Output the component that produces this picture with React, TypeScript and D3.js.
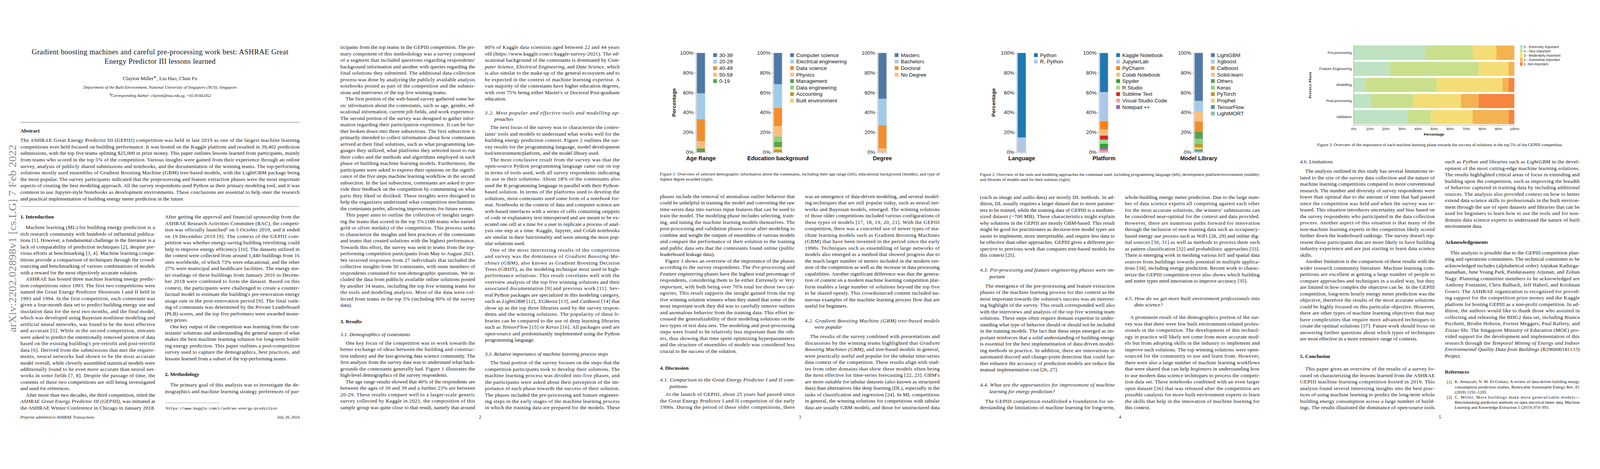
import React, { useEffect, useRef } from 'react'
import * as d3 from 'd3'

// ---------- chart data ----------
const ageKeys = ['30-39', '20-29', '40-49', '50-59', '0-19']
const ageValues = [40.7, 25.9, 22.2, 7.4, 3.7]

const eduKeys = ['Computer science', 'Electrical engineering', 'Data science', 'Physics', 'Management', 'Data engineering', 'Accounting', 'Built environment']
const eduValues = [31.6, 23.7, 18.4, 10.5, 5.3, 5.3, 2.6, 2.6]

const degreeKeys = ['Masters', 'Bachelors', 'Doctoral', 'No Degree']
const degreeValues = [46.2, 26.9, 23.1, 3.8]

const languageKeys = ['Python', 'R, Python']
const languageValues = [85.2, 14.8]

const platformKeys = ['Kaggle Notebook', 'JupyterLab', 'PyCharm', 'Colab Notebook', 'Spyder', 'R Studio', 'Sublime Text', 'Visual Studio Code', 'Notepad ++']
const platformValues = [39.6, 29.2, 8.3, 6.3, 4.2, 4.2, 4.2, 2.1, 2.1]

const libraryKeys = ['LightGBM', 'Xgboost', 'Catboost', 'Scikit-learn', 'Others', 'Keras', 'PyTorch', 'Prophet', 'TensorFlow', 'LightMORT']
const libraryValues = [48.3, 10.8, 10.0, 10.1, 7.2, 5.3, 3.3, 2.5, 1.5, 1.0]

const phases = ['Pre-processing', 'Feature Engineering', 'Modelling', 'Post-processing', 'Validation']
const ratingLabels = ['5 - Extremely important', '4 - Very important', '3 - Moderately important', '2 - Somewhat important', '1- Not important']
const extremely = [44.4, 22.2, 7.4, 11.1, 33.3]
const very = [29.6, 55.6, 44.4, 25.9, 14.8]
const moderately = [14.8, 18.5, 40.7, 29.6, 25.9]
const somewhat = [11.1, 3.7, 3.7, 11.1, 22.2]
const notImportant = [0, 0, 3.7, 22.2, 3.7]

const tableau20 = ['#4e79a7', '#a0cbe8', '#f28e2b', '#ffbe7d', '#59a14f', '#8cd17d', '#b6992d', '#f1ce63', '#499894', '#86bcb6']
const category20 = ['#1f77b4', '#aec7e8', '#ff7f0e', '#ffbb78', '#2ca02c', '#98df8a', '#d62728', '#ff9896', '#9467bd']
const ratingColors = ['#bfe3c2', '#c9df8c', '#f4dd74', '#f4b350', '#f5853f']

const SERIF = '"Liberation Serif", "Times New Roman", serif'
const SANS = '"Liberation Sans", Arial, sans-serif'
const MONO = '"Liberation Mono", "DejaVu Sans Mono", monospace'

const W = 4240
const H = 1200
const plotTop = 140
const plotBottom = 403
const legendTop = 146

const columns = [
  { title: 'Age Range', axisX: 1844, keys: ageKeys, values: ageValues, colors: tableau20, yTitleX: 1786 },
  { title: 'Education background', axisX: 2048, keys: eduKeys, values: eduValues, colors: tableau20 },
  { title: 'Degree', axisX: 2325, keys: degreeKeys, values: degreeValues, colors: tableau20 },
  { title: 'Language', axisX: 2694, keys: languageKeys, values: languageValues, colors: category20, yTitleX: 2633 },
  { title: 'Platform', axisX: 2912, keys: platformKeys, values: platformValues, colors: category20 },
  { title: 'Model Library', axisX: 3163, keys: libraryKeys, values: libraryValues, colors: tableau20 },
]

// ---------- page text ----------
const abstractLines = [
  'The ASHRAE Great Energy Predictor III (GEPIII) competition was held in late 2019 as one of the largest machine learning',
  'competitions ever held focused on building performance. It was hosted on the Kaggle platform and resulted in 39,402 prediction',
  'submissions, with the top five teams splitting $25,000 in prize money. This paper outlines lessons learned from participants, mainly',
  'from teams who scored in the top 5% of the competition. Various insights were gained from their experience through an online',
  'survey, analysis of publicly shared submissions and notebooks, and the documentation of the winning teams. The top-performing',
  'solutions mostly used ensembles of Gradient Boosting Machine (GBM) tree-based models, with the LightGBM package being',
  'the most popular. The survey participants indicated that the preprocessing and feature extraction phases were the most important',
  'aspects of creating the best modeling approach. All the survey respondents used Python as their primary modeling tool, and it was',
  'common to use Jupyter-style Notebooks as development environments. These conclusions are essential to help steer the research',
  'and practical implementation of building energy meter prediction in the future.|',
]

const p1Left = [
  '¶Machine learning (ML) for building energy prediction is a',
  'rich research community with hundreds of influential publica-',
  'tions [1]. However, a fundamental challenge in the literature is a',
  'lack of comparability of prediction techniques [2], despite pre-',
  'vious efforts at benchmarking [3, 4]. Machine learning compe-',
  'titions provide a comparison of techniques through the crowd-',
  'sourcing and benchmarking of various combinations of models',
  'with a reward for the most objectively accurate solution.|',
  '¶ASHRAE has hosted three machine learning energy predic-',
  'tion competitions since 1993. The first two competitions were',
  'named the Great Energy Predictor Shootouts I and II held in',
  '1993 and 1994. In the first competition, each contestant was',
  'given a four-month data set to predict building energy use and',
  'insolation data for the next two months, and the final model,',
  'which was developed using Bayesian nonlinear modeling and',
  'artificial neural networks, was found to be the most effective',
  'and accurate [5]. While in the second competition, entrants',
  'were asked to predict the intentionally removed portion of data',
  "based on the existing building's pre-retrofit and post-retrofit",
  'data [6]. Derived from the submissions that met the require-',
  'ments, neural networks had shown to be the most accurate',
  'model overall, while cleverly assembled statistical models were',
  'additionally found to be even more accurate than neural net-',
  'works in some fields [7, 8]. Despite the passage of time, the',
  'contents of these two competitions are still being investigated',
  'and used for references.|',
  '¶After more than two decades, the third competition, titled the',
  '*ASHRAE Great Energy Predictor III (GEPIII)*, was initiated at',
  'the ASHRAE Winter Conference in Chicago in January 2018.',
]

const p1Right = [
  'After getting the approval and financial sponsorship from the',
  'ASHRAE Research Activities Committee (RAC), the competi-',
  'tion was officially launched¹ on 5 October 2019, and it ended',
  'on 19 December 2019 [9]. The context of the GEPIII com-',
  'petition was whether energy-saving building retrofitting could',
  'help to improve energy efficiency [10]. The datasets utilized in',
  'the contest were collected from around 1,440 buildings from 16',
  'sites worldwide, of which 73% were educational, and the other',
  '27% were municipal and healthcare facilities. The energy me-',
  'ter readings of these buildings from January 2016 to Decem-',
  'ber 2018 were combined to form the dataset. Based on this',
  'context, the participants were challenged to create a counter-',
  "factual model to estimate the building's pre-renovation energy",
  'usage rate in the post-renovation period [9]. The final rank-',
  'ing of contestants was determined by the Private Leaderboard',
  '(PLB) scores, and the top five performers were awarded mone-',
  'tary prizes.|',
  '¶One key output of the competition was learning from the con-',
  "testants' solutions and understanding the general nature of what",
  'makes the best machine learning solution for long-term build-',
  'ing energy prediction. This paper outlines a post-competition',
  'survey used to capture the demographics, best practices, and',
  'lessons learned from a subset of the top-performing teams.|',
]

const p1Method = [
  '¶The primary goal of this analysis was to investigate the de-',
  'mographics and machine learning strategy preferences of par-',
]

const p2Left = [
  'ticipants from the top teams in the GEPIII competition. The pri-',
  'mary component of this methodology was a survey composed',
  "of a segment that included questions regarding respondents'",
  'background information and another with queries regarding the',
  'final solutions they submitted. The additional data collection',
  'process was done by analyzing the publicly available analysis',
  'notebooks posted as part of the competition and the submis-',
  'sions and interviews of the top five winning teams.|',
  '¶The first portion of the web-based survey gathered some ba-',
  'sic information about the contestants, such as age, gender, ed-',
  'ucational information, current job fields, and work experience.',
  'The second portion of the survey was designed to gather infor-',
  'mation regarding their participation experience. It can be fur-',
  'ther broken down into three subsections. The first subsection is',
  'primarily intended to collect information about how contestants',
  'arrived at their final solutions, such as what programming lan-',
  'guages they utilized, what platforms they selected most to run',
  'their codes and the methods and algorithms employed in each',
  'phase of building machine learning models. Furthermore, the',
  'participants were asked to express their opinions on the signifi-',
  'cance of the five steps machine learning workflow in the second',
  'subsection. In the last subsection, contestants are asked to pro-',
  'vide their feedback on the competition by commenting on what',
  'parts they liked or disliked. These insights were designed to',
  'help the organizers understand what competition mechanisms',
  'the contestants prefer, allowing improvements for future events.|',
  '¶This paper aims to outline the collection of insights target-',
  'ing the teams that scored in the top 5% (180 teams who earned',
  'gold or silver medals) of the competition. This process seeks',
  'to characterize the insights and best practices of the contestants',
  'and teams that created solutions with the highest performance.',
  'Towards this effort, the survey was sent to teams from the top-',
  'performing competition participants from May to August 2021.',
  'We received responses from 27 individuals that included the',
  'collective insights from 50 contestants, with team members of',
  'respondents contained for non-demographic questions. We in-',
  'cluded the data from publicly available online solutions posted',
  'by another 34 teams, including the top five winning teams for',
  'the tools and modeling analysis. Most of the data were col-',
  'lected from teams in the top 5% (including 90% of the survey',
  'data).|',
]

const p2Demo = [
  '¶One key focus of the competition was to work towards the',
  'better exchange of ideas between the building and construc-',
  'tion industry and the fast-growing data science community. The',
  'first analysis from the survey data was to understand what back-',
  'grounds the contestants generally had. Figure 1 illustrates the',
  'high-level demographics of the survey respondents.|',
  '¶The age range results showed that 40% of the respondents are',
  'between the ages of 30 and 39 and a further 23% are between',
  '20-29. These results compare well to a larger-scale generic',
  'survey collected by Kaggle in 2021, the composition of this',
  'sample group was quite close to that result, namely that around',
]

const p2Right = [
  '80% of Kaggle data scientists aged between 22 and 44 years',
  'old (https://www.kaggle.com/c/kaggle-survey-2021). The ed-',
  'ucational background of the contestants is dominated by *Com-*',
  '*puter Science*, *Electrical Engineering*, and *Data Science*, which',
  'is also similar to the make-up of the general ecosystem and to',
  'be expected in the context of machine learning expertise. A',
  'vast majority of the contestants have higher education degrees,',
  "with over 75% being either Master's or Doctoral Post-graduate",
  'education.|',
]

const p2Tools = [
  '¶The next focus of the survey was to characterize the contes-',
  "tants' tools and models to understand what works well for the",
  'building energy prediction context. Figure 2 outlines the sur-',
  'vey results for the programming language, model development',
  'tool/environment/platform, and the model library used.|',
  '¶The most conclusive result from the survey was that the',
  'open-source Python programming language came out on top',
  'in terms of tools used, with all survey respondents indicating',
  'its use in their solutions. About 18% of the contestants also',
  'used the R programming language in parallel with their Python-',
  'based solution. In terms of the platforms used to develop the',
  'solutions, most contestants used some form of a *notebook* for-',
  'mat. Notebooks in the context of data and computer science are',
  'web-based interfaces with a series of cells containing snippets',
  'of code or explanatory text interspersed and are meant to be ex-',
  'ecuted one cell at a time for a user to replicate a process of anal-',
  'ysis one step at a time. Kaggle, Jupyter, and Colab notebooks',
  'are similar in their functionality and were among the most pop-',
  'ular solutions used.|',
  '¶One of the most interesting results of the competition',
  'and survey was the dominance of *Gradient Boosting Ma-*',
  '*chines* (GBM), also known as Gradient Boosting Decision',
  'Trees (GBDT), as the modeling technique most used in high-',
  'performance solutions. This result correlates well with the',
  'overview analysis of the top five winning solutions and their',
  'associated documentation [9] and previous work [11]. Sev-',
  'eral Python packages are specialized in this modeling category,',
  'such as *LightGBM* [12], *XGBoost* [13], and *CatBoost* [14] that',
  'show up as the top three libraries used by the survey respon-',
  'dents and the winning solutions. The popularity of these li-',
  'braries can be compared to the use of deep learning libraries',
  'such as *TensorFlow* [15] or *Keras* [16]. All packages used are',
  'open-source and predominantly implemented using the Python',
  'programming language.|',
]

const p2Steps = [
  '¶The final portion of the survey focuses on the steps that the',
  'competition participants took to develop their solutions. The',
  'machine learning process was divided into five phases, and',
  'the participants were asked about their perception of the im-',
  'portance of each phase towards the success of their solution.',
  'The phases included the pre-processing and feature engineer-',
  'ing steps in the early stages of the machine learning process',
  'in which the training data are prepared for the models. These',
]

const p3Left = [
  'phases include the removal of anomalous outlier behavior that',
  'could be unhelpful in training the model and converting the raw',
  'time-series data into various input features that can be used to',
  'train the model. The modeling phase includes selecting, train-',
  'ing, and tuning the machine learning models themselves. The',
  'post-processing and validation phases occur after modeling to',
  'combine and weight the outputs of ensembles of various models',
  'and compare the performance of their solution to the training',
  'and public data sets that the contestants found online (public',
  'leaderboard leakage data).|',
  '¶Figure 3 shows an overview of the importance of the phases',
  'according to the survey respondents. The *Pre-processing* and',
  '*Feature engineering* phases have the highest total percentage of',
  'respondents, considering them to be either *Extremely* or *Very*',
  '*important*, with both being over 70% total for those two cat-',
  'egories. This result supports the insight gained from the top',
  'five winning solution winners when they stated that some of the',
  'most important work they did was to carefully remove outliers',
  'and anomalous behavior from the training data. This effort in-',
  'creased the generalizability of their modeling solutions on the',
  'two types of test data sets. The modeling and post-processing',
  'steps were found to be relatively less important than the oth-',
  'ers, thus showing that time spent optimizing hyperparameters',
  'and the structure of ensembles of models was considered less',
  'crucial to the success of the solution.|',
]

const p3Gep = [
  '¶At the launch of GEPIII, about 25 years had passed since',
  'the Great Energy Predictor I and II competition of the early',
  '1990s. During the period of these older competitions, there',
]

const p3Right = [
  'was an emergence of data-driven modeling, and several model-',
  'ing techniques that are still popular today, such as neural net-',
  'works and Bayesian models, emerged. The winning solutions',
  'of those older competitions included various configurations of',
  'these types of models [17, 18, 19, 20, 21]. With the GEPIII',
  'competition, there was a concerted use of newer types of ma-',
  'chine learning models such as Gradient Boosting Machines',
  '(GBM) that have been invented in the period since the early',
  '1990s. Techniques such as ensembling of large networks of',
  'models also emerged as a method that showed progress due to',
  'the much larger number of meters included in the modern ver-',
  'sion of the competition as well as the increase in data processing',
  'capabilities. Another significant difference was that the genera-',
  'tion of content on a modern machine learning competition plat-',
  'form enables a large number of solutions beyond the top five',
  'to be shared openly. This crowdsourced content included nu-',
  'merous examples of the machine learning process flow that are',
  'useful for beginners.|',
]

const p3Gbm = [
  '¶The results of the survey combined with presentations and',
  'discussions by the winning teams highlighted that *Gradient*',
  '*Boosting Machines (GBM)*, and tree-based models in general,',
  'were practically useful and popular for the tabular time-series',
  'data context of the competition. These results align with stud-',
  'ies from other domains that show these models often being',
  "the most effective for time-series forecasting [22, 23]. GBM's",
  'are more suitable for tabular datasets (also known as structured',
  'data) than alternatives like deep learning (DL), especially in the',
  'tasks of classification and regression [24]. In ML competitions',
  'in general, the winning solutions for competitions with tabular',
  'data are usually GBM models, and those for unstructured data',
]

const p4Left = [
  '(such as image and audio data) are mostly DL methods. In ad-',
  'dition, DL usually requires a larger dataset due to more parame-',
  'ters to be trained, while the training data of GEPIII is a medium-',
  'sized dataset (~700 MB). These characteristics might explain',
  'why solutions in the GEPIII are mostly GBM-based. This result',
  'might be good for practitioners as decision-tree model types are',
  'easier to implement, more interpretable, and require less data to',
  'be effective than other approaches. GEPIII gives a different per-',
  'spective to previous work that compares tree-based models for',
  'this context [25].|',
]

const p4Pre = [
  '¶The emergence of the pre-processing and feature extraction',
  'phases of the machine learning process for this context as the',
  "most important towards the solution's success was an interest-",
  'ing highlight of the survey. This result corresponded well also',
  'with the interviews and analysis of the top five winning team',
  'solutions. These steps often require domain expertise in under-',
  'standing what type of behavior should or should not be included',
  'in the training models. The fact that these steps emerged as im-',
  'portant reinforces that a solid understanding of building energy',
  'is essential for the best implementation of data-driven model-',
  'ing methods in practice. In addition, there are innovations in',
  'automated discord and change-point detection that could fur-',
  'ther enhance the accuracy of prediction models are reduce the',
  'manual implementation cost [26, 27].|',
]

const p4Opp = [
  '¶The GEPIII competition established a foundation for un-',
  'derstanding the limitations of machine learning for long-term,',
]

const p4Right = [
  'whole-building energy meter prediction. Due to the large num-',
  'ber of data science experts all competing against each other',
  "for the most accurate solutions, the winners' submissions can",
  'be considered near-optimal for the context and data provided.',
  'However, there are numerous paths forward for innovation',
  'through the inclusion of new training data such as occupancy-',
  'based energy use proxies such as WiFi [28, 29] and online dig-',
  'ital sources [30, 31] as well as methods to process them such',
  'as pattern classification [32] and probabilistic approaches [33].',
  'There is emerging work in meshing various IoT and spatial data',
  'sources from buildings towards potential in multiple applica-',
  'tions [34], including energy prediction. Recent work to charac-',
  'terize the GEPIII competition error also shows which building',
  'and meter types need innovation to improve accuracy [35].|',
]

const p4Built = [
  '¶A prominent result of the demographics portion of the sur-',
  'vey was that there were few built environment-related profes-',
  'sionals in the competition. The development of this technol-',
  'ogy in practice will likely not come from more accurate mod-',
  'els but from adopting skills in the industry to implement and',
  'improve such solutions. The top winning solutions were open-',
  'sourced for the community to use and learn from. However,',
  'there were also a large number of machine learning workflows',
  'that were shared that can help *beginners* in understanding how',
  'to use modern data science techniques to process the competi-',
  'tion data set. These notebooks combined with an even larger',
  'open dataset [36] that was released after the competition are',
  'possible catalysts for more built environment experts to learn',
  'the skills that help in the innovation of machine learning for',
  'this context.|',
]

const p5Limits = [
  '¶The analysis outlined in this study has several limitations re-',
  'lated to the size of the survey data collection and the nature of',
  'machine learning competitions compared to more conventional',
  'research. The number and diversity of survey respondents were',
  'lower than optimal due to the amount of time that had passed',
  'since the competition was held and when the survey was re-',
  'leased. This situation introduces uncertainty and bias based on',
  'the survey respondents who participated in the data collection',
  'process. Another aspect of this situation is that many of the',
  'non-machine learning experts in the competition likely scored',
  "further down the leaderboard rankings. The survey doesn't rep-",
  'resent those participants that are more likely to have building',
  'industry experience and are just starting to learn data science',
  'skills.|',
  '¶Another limitation is the comparison of these results with the',
  'wider research community literature. Machine learning com-',
  'petitions are excellent at getting a large number of people to',
  'compare approaches and techniques in a scaled way, but they',
  'are limited in how complex the objective can be. In the GEPIII',
  'competition, long-term hourly energy meter prediction was the',
  'objective, therefore the results of the most accurate solutions',
  'could be highly focused on this particular objective. However,',
  'there are other types of machine learning objectives that may',
  'have complexities that require more advanced techniques to',
  'create the optimal solutions [37]. Future work should focus on',
  'answering further questions about which types of techniques',
  'are most effective in a more extensive range of contexts.|',
]

const p5Concl = [
  '¶This paper gives an overview of the results of a survey fo-',
  'cused on characterizing the lessons learned from the ASHRAE',
  'GEPIII machine learning competition hosted in 2019. This',
  'analysis found several interesting insights into the best prac-',
  'tices of using machine learning to predict the long-term whole',
  'building energy consumption across a large number of build-',
  'ings. The results illustrated the dominance of open-source tools',
]

const p5Right = [
  'such as *Python* and libraries such as *LightGBM* in the devel-',
  'opment of the most cutting-edge machine learning solutions.',
  'The results highlighted critical areas of focus in extending and',
  'building upon the competition, such as improving the breadth',
  'of behavior captured in training data by including additional',
  'sources. The analysis also provided context on how to better',
  'extend data science skills to professionals in the built environ-',
  'ment through the use of open datasets and libraries that can be',
  'used for beginners to learn how to use the tools and for non-',
  'domain data science experts to understand the nature of built',
  'environment data.|',
]

const p5Ack = [
  '¶This analysis is possible due to the GEPIII competition plan-',
  'ning and operations committees. The technical committee to be',
  'acknowledged includes (alphabetical order) Anjukan Kathirga-',
  'manathan, June Young Park, Pandarasamy Arjunan, and Zoltan',
  'Nagy. Planning committee members to be acknowledged are',
  'Anthony Fontanini, Chris Balbach, Jeff Haberl, and Krishnan',
  'Gowri. The ASHRAE organization is recognized for provid-',
  'ing support for the competition prize money and the Kaggle',
  'platform for hosting GEPIII as a non-profit competition. In ad-',
  'dition, the authors would like to thank those who assisted in',
  'collecting and releasing the BDG2 data set, including Bianca',
  'Picchetti, Brodie Hobson, Forrest Meggers, Paul Raftery, and',
  'Zixiao Shi. The Singapore Ministry of Education (MOE) pro-',
  'vided support for the development and implementation of this',
  'research through the *Temporal Mining of Energy and Indoor*',
  '*Environmental Quality Data from Buildings* (R296000181133)',
  'Project.|',
]

const ref1 = [
  'K. Amasyali, N. M. El-Gohary, A review of data-driven building energy',
  'consumption prediction studies, Renewable Sustainable Energy Rev. 81',
  '(2018) 1192–1205.|',
]
const ref2 = [
  'C. Miller, More buildings make more generalizable models—',
  'Benchmarking prediction methods on open electrical meter data, Machine',
  'Learning and Knowledge Extraction 1 (2019) 974–993.|',
]

const BODY = 13.8
const LH = 17.07
const COL = 357
const FULL = 741
const CAP = 11.3

type Block = { x: number; y: number; w: number; lines: string[]; size?: number; lh?: number; italic?: boolean }

const blocks: Block[] = [
  { x: 54, y: 371, w: 740, lines: abstractLines, lh: 17.2 },
  { x: 54, y: 602, w: COL, lines: p1Left },
  { x: 437, y: 574, w: COL, lines: p1Right },
  { x: 437, y: 1019, w: COL, lines: p1Method },
  { x: 902, y: 125, w: COL, lines: p2Left },
  { x: 902, y: 885, w: COL, lines: ['3.1. Demographics of contestants|'], italic: true },
  { x: 902, y: 908, w: COL, lines: p2Demo },
  { x: 1285, y: 125, w: COL, lines: p2Right },
  { x: 1285, y: 298, w: COL, lines: ['3.2. Most popular and effective tools and modelling ap-', '»proaches'], italic: true },
  { x: 1285, y: 337, w: COL, lines: p2Tools },
  { x: 1285, y: 937, w: COL, lines: ['3.3. Relative importance of machine learning process steps|'], italic: true },
  { x: 1285, y: 960, w: COL, lines: p2Steps },
  { x: 1749, y: 461, w: FULL, size: CAP, lh: 13, lines: ['Figure 1: Overview of selected demographic information about the contestants, including their age range (left), educational background (middle), and type of', 'highest degree awarded (right).|'] },
  { x: 1749, y: 520, w: COL, lines: p3Left },
  { x: 1749, y: 1006, w: COL, lines: ['4.1. Comparison to the Great Energy Predictor I and II com-', '»petitions'], italic: true },
  { x: 1749, y: 1044, w: COL, lines: p3Gep },
  { x: 2133, y: 520, w: COL, lines: p3Right },
  { x: 2133, y: 849, w: COL, lines: ['4.2. Gradient Boosting Machine (GBM) tree-based models', '»were popular'], italic: true },
  { x: 2133, y: 891, w: COL, lines: p3Gbm },
  { x: 2597, y: 462, w: FULL, size: CAP, lh: 13, lines: ['Figure 2: Overview of the tools and modeling approaches the contestant used, including programming language (left), development platform/environment (middle),', 'and libraries of models used for their solution (right).|'] },
  { x: 2597, y: 522, w: COL, lines: p4Left },
  { x: 2597, y: 715, w: COL, lines: ['4.3. Pre-processing and feature engineering phases were im-', '»portant'], italic: true },
  { x: 2597, y: 757, w: COL, lines: p4Pre },
  { x: 2597, y: 1019, w: COL, lines: ['4.4. What are the opportunities for improvement of machine', '»learning for energy prediction?'], italic: true },
  { x: 2597, y: 1062, w: COL, lines: p4Opp },
  { x: 2981, y: 522, w: COL, lines: p4Right },
  { x: 2981, y: 790, w: COL, lines: ['4.5. How do we get more built environment professionals into', '»data science?'], italic: true },
  { x: 2981, y: 840, w: COL, lines: p4Built },
  { x: 3445, y: 428, w: COL, lines: ['4.6. Limitations|'], italic: true },
  { x: 3445, y: 453, w: COL, lines: p5Limits },
  { x: 3445, y: 977, w: COL, lines: p5Concl },
  { x: 3829, y: 428, w: COL, lines: p5Right },
  { x: 3829, y: 669, w: COL, lines: p5Ack },
  { x: 3855, y: 1011, w: 331, size: CAP, lh: 13.6, lines: ref1 },
  { x: 3855, y: 1052, w: 331, size: CAP, lh: 13.6, lines: ref2 },
]

const headings = [
  { x: 54, y: 346, text: 'Abstract' },
  { x: 54, y: 574, text: '1. Introduction' },
  { x: 437, y: 991, text: '2. Methodology' },
  { x: 902, y: 851, text: '3. Results' },
  { x: 1749, y: 974, text: '4. Discussion' },
  { x: 3445, y: 943, text: '5. Conclusion' },
  { x: 3829, y: 641, text: 'Acknowledgements' },
  { x: 3829, y: 985, text: 'References' },
]

const pageNumbers = [
  { x: 1272, text: '2' },
  { x: 2120, text: '3' },
  { x: 2968, text: '4' },
  { x: 3816, text: '5' },
]

function Lines({ b }: { b: Block }) {
  const size = b.size || BODY
  const lh = b.lh || LH
  return (
    <g fontSize={size} fontStyle={b.italic ? 'italic' : undefined}>
      {b.lines.map((raw, i) => {
        let s = raw
        let indent = 0
        let justify = true
        if (s.startsWith('¶')) { s = s.slice(1); indent = 14 }
        else if (s.startsWith('»')) { s = s.slice(1); indent = 25; justify = false }
        if (s.endsWith('|')) { s = s.slice(0, -1); justify = false }
        const parts = s.split('*')
        return (
          <text key={i} x={b.x + indent} y={b.y + i * lh + size * 0.35}
            textLength={justify ? b.w - indent : undefined}
            lengthAdjust={justify ? 'spacing' : undefined}>
            {parts.map((p, j) => (j % 2 ? <tspan key={j} fontStyle="italic">{p}</tspan> : p))}
          </text>
        )
      })}
    </g>
  )
}

function drawColumn(root: any, c: any) {
  const g = root.append('g')
  const y = d3.scaleLinear().domain([0, 1]).range([plotBottom, plotTop])
  const x = d3.scaleBand<string>().domain([c.title]).range([c.axisX, c.axisX + 27]).paddingOuter(0.13)
  const color = d3.scaleOrdinal<string, string>().domain(c.keys).range(c.colors)

  // biggest segment on top, ties keep the later legend entry higher
  const topDown = c.keys.map((_: string, i: number) => i)
    .sort((a: number, b: number) => (c.values[b] - c.values[a]) || (b - a))
  const bottomUp = topDown.slice().reverse().map((i: number) => c.keys[i])
  const row: Record<string, number> = {}
  c.keys.forEach((k: string, i: number) => { row[k] = c.values[i] })
  const series = d3.stack<any>().keys(bottomUp).offset(d3.stackOffsetExpand)([row])

  const bx = x(c.title) as number
  const bw = x.bandwidth()
  g.selectAll('rect.seg').data(series).join('rect')
    .attr('class', 'seg')
    .attr('x', bx)
    .attr('width', bw)
    .attr('y', (d: any) => y(d[0][1]))
    .attr('height', (d: any) => y(d[0][0]) - y(d[0][1]))
    .attr('fill', (d: any) => color(d.key))
  g.append('rect')
    .attr('x', bx - 0.5).attr('y', plotTop).attr('width', bw + 1).attr('height', plotBottom - plotTop)
    .attr('fill', 'none').attr('stroke', '#d6d6d6').attr('stroke-width', 1)

  const ya = g.append('g')
    .attr('transform', `translate(${c.axisX},0)`)
    .call(d3.axisLeft(y).tickValues([0, 0.2, 0.4, 0.6, 0.8, 1]).tickFormat(d3.format('.0%') as any).tickSize(4).tickPadding(2).tickSizeOuter(0))
  ya.select('.domain').attr('stroke', '#9a9a9a')
  ya.selectAll('.tick line').attr('stroke', '#9a9a9a')
  ya.selectAll('text').attr('font-size', 14).attr('font-family', SANS).attr('fill', '#222')

  const xa = g.append('g')
    .attr('transform', `translate(0,${plotBottom})`)
    .call(d3.axisBottom(x).tickSize(5).tickPadding(6).tickSizeOuter(0))
  xa.select('.domain').attr('stroke', '#9a9a9a')
  xa.selectAll('.tick line').attr('stroke', '#9a9a9a')
  xa.selectAll('text').attr('font-size', 15).attr('font-weight', 'bold').attr('font-family', SANS).attr('fill', '#111')

  const items = g.append('g')
    .attr('transform', `translate(${c.axisX + 46},${legendTop})`)
    .selectAll('g').data(c.keys).join('g')
    .attr('transform', (_: string, i: number) => `translate(0,${i * 17.2})`)
  items.append('rect').attr('y', -5).attr('width', 10).attr('height', 10).attr('fill', (d: string) => color(d))
  items.append('text').attr('x', 16).attr('dy', '0.35em')
    .attr('font-size', 14).attr('font-family', SANS).attr('fill', '#111')
    .text((d: string) => d)

  if (c.yTitleX) {
    g.append('text')
      .attr('transform', `translate(${c.yTitleX + 5},${(plotTop + plotBottom) / 2}) rotate(-90)`)
      .attr('text-anchor', 'middle')
      .attr('font-size', 14).attr('font-weight', 'bold').attr('font-family', SANS).attr('fill', '#111')
      .text('Percentage')
  }
}

function drawPhases(root: any) {
  const g = root.append('g')
  const left = 3587, right = 4013, top = 120, bottom = 330
  const x = d3.scaleLinear().domain([0, 1]).range([left, right])
  const y = d3.scaleBand<string>().domain(phases).range([top, bottom]).paddingInner(0.118).paddingOuter(0.03)
  const keys = ['r5', 'r4', 'r3', 'r2', 'r1']
  const rows = phases.map((p, i) => ({ phase: p, r5: extremely[i], r4: very[i], r3: moderately[i], r2: somewhat[i], r1: notImportant[i] }))
  const series = d3.stack<any>().keys(keys).offset(d3.stackOffsetExpand)(rows)
  const color = d3.scaleOrdinal<string, string>().domain(keys).range(ratingColors)

  g.append('line').attr('x1', left).attr('x2', right).attr('y1', top + 0.5).attr('y2', top + 0.5)
    .attr('stroke', '#cfcfcf')

  g.selectAll('g.layer').data(series).join('g')
    .attr('class', 'layer')
    .attr('fill', (d: any) => color(d.key))
    .selectAll('rect').data((d: any) => d).join('rect')
    .attr('x', (d: any) => x(d[0]))
    .attr('width', (d: any) => x(d[1]) - x(d[0]))
    .attr('y', (d: any) => y(d.data.phase) as number)
    .attr('height', y.bandwidth())

  const xa = g.append('g').attr('transform', `translate(0,${bottom + 1})`)
    .call(d3.axisBottom(x).tickValues(d3.range(11).map(i => i / 10)).tickFormat(d3.format('.0%') as any).tickSize(4).tickPadding(3).tickSizeOuter(0))
  xa.select('.domain').attr('stroke', '#9a9a9a')
  xa.selectAll('.tick line').attr('stroke', '#9a9a9a')
  xa.selectAll('text').attr('font-size', 10).attr('font-family', SANS).attr('fill', '#222')

  const ya = g.append('g').attr('transform', `translate(${left},0)`)
    .call(d3.axisLeft(y).tickSize(3).tickPadding(2).tickSizeOuter(0))
  ya.select('.domain').attr('stroke', '#9a9a9a')
  ya.selectAll('.tick line').attr('stroke', '#9a9a9a')
  ya.selectAll('text').attr('font-size', 9.5).attr('font-family', SANS).attr('fill', '#222')

  g.append('text').attr('x', (left + right) / 2).attr('y', 359)
    .attr('text-anchor', 'middle').attr('font-size', 10).attr('font-weight', 'bold').attr('font-family', SANS)
    .text('Percentage')
  g.append('text').attr('transform', `translate(3475,${(top + bottom) / 2}) rotate(-90)`)
    .attr('text-anchor', 'middle').attr('font-size', 8.5).attr('font-weight', 'bold')
    .attr('letter-spacing', 0.8).attr('font-family', SANS)
    .text('Process Phase')

  const items = g.append('g').attr('transform', 'translate(4028,124)')
    .selectAll('g').data(keys).join('g')
    .attr('transform', (_: string, i: number) => `translate(0,${i * 11.3})`)
  items.append('rect').attr('y', -5).attr('width', 7).attr('height', 10).attr('fill', (d: string) => color(d))
  items.append('text').attr('x', 10).attr('dy', '0.35em')
    .attr('font-size', 9).attr('font-family', SANS).attr('fill', '#222')
    .text((_: string, i: number) => ratingLabels[i])
}

export default function App() {
  const ref = useRef<SVGSVGElement | null>(null)

  useEffect(() => {
    const svg = d3.select(ref.current)
    svg.select('#charts').remove()
    const root = svg.append('g').attr('id', 'charts')
    columns.forEach(c => drawColumn(root, c))
    drawPhases(root)
  }, [])

  // scale the whole spread into the viewport so nothing is clipped on the right
  return (
    <svg ref={ref} viewBox={`0 0 ${W} ${H}`} preserveAspectRatio="xMinYMin meet"
      style={{ position: 'fixed', left: 0, top: 0, width: '100%', height: '100%', background: '#fff' }}
      fontFamily={SERIF} fill="#111">
      <rect width={W} height={H} fill="#fff" />

      {/* arXiv stamp */}
      <text transform="translate(42,880) rotate(-90)" fontSize={28} fill="#8a8a8a" textLength={497} lengthAdjust="spacingAndGlyphs">
        arXiv:2202.02898v1  [cs.LG]  7 Feb 2022
      </text>

      {/* title block */}
      <text x={424} y={144} textAnchor="middle" fontSize={19.5} textLength={680} lengthAdjust="spacing">
        Gradient boosting machines and careful pre-processing work best: ASHRAE Great
      </text>
      <text x={424} y={169} textAnchor="middle" fontSize={19.5} textLength={294} lengthAdjust="spacing">
        Energy Predictor III lessons learned
      </text>
      <text x={424} y={212} textAnchor="middle" fontSize={13.8}>
        Clayton Miller<tspan baselineShift="super" fontSize={9}>∗</tspan>, Liu Hao, Chun Fu
      </text>
      <text x={424} y={235} textAnchor="middle" fontSize={11} fontStyle="italic" textLength={406} lengthAdjust="spacing">
        Department of the Built Environment, National University of Singapore (NUS), Singapore
      </text>
      <text x={424} y={257} textAnchor="middle" fontSize={11} fontStyle="italic">
        <tspan baselineShift="super" fontSize={8}>∗</tspan>Corresponding Author: clayton@nus.edu.sg, +65 81602452
      </text>
      <line x1={54} x2={794} y1={324} y2={324} stroke="#999" strokeWidth={1.4} />
      <line x1={54} x2={794} y1={547} y2={547} stroke="#999" strokeWidth={1.4} />

      {headings.map((h, i) => (
        <text key={i} x={h.x} y={h.y + 5} fontSize={13.8} fontWeight="bold">{h.text}</text>
      ))}

      {blocks.map((b, i) => <Lines key={i} b={b} />)}

      <text x={3834} y={1011 + 4} fontSize={CAP}>[1]</text>
      <text x={3834} y={1052 + 4} fontSize={CAP}>[2]</text>

      {/* footnote on page 1 */}
      <line x1={437} x2={581} y1={1067} y2={1067} stroke="#555" strokeWidth={0.6} />
      <text x={437} y={1085} fontSize={10}>
        <tspan fontSize={7} baselineShift="super">1</tspan>
        <tspan fontFamily={MONO} fontSize={10}>https://www.kaggle.com/c/ashrae-energy-prediction</tspan>
      </text>

      <text x={54} y={1109} fontSize={11} fontStyle="italic">Preprint submitted to ASHRAE Transactions</text>
      <text x={794} y={1109} fontSize={11} textAnchor="end">July 26, 2024</text>
      {pageNumbers.map((p, i) => (
        <text key={i} x={p.x} y={1109} fontSize={12} textAnchor="middle">{p.text}</text>
      ))}

      <text x={3816} y={387} fontSize={CAP} textAnchor="middle">
        Figure 3: Overview of the importance of each machine learning phase towards the success of solutions in the top 5% of the GEPIII competition.
      </text>
    </svg>
  )
}
